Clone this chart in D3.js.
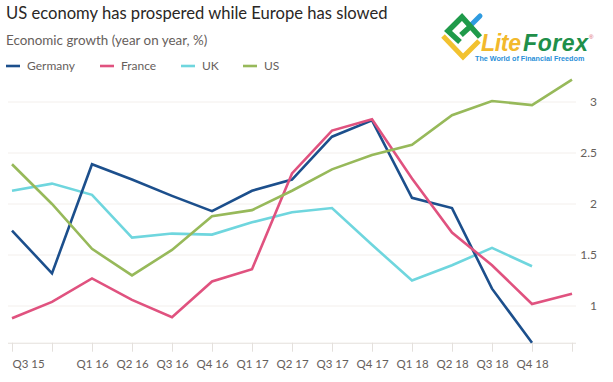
<!DOCTYPE html>
<html>
<head>
<meta charset="utf-8">
<script src="https://cdn.jsdelivr.net/npm/d3@7"></script>
<style>
  html, body { margin: 0; padding: 0; background: #fff; }
  svg { display: block; }
  text { font-family: Lato, "Open Sans", sans-serif; }
</style>
</head>
<body>
<svg width="613" height="382"></svg>
<script>
const quarters = ['Q3 15', 'Q4 15', 'Q1 16', 'Q2 16', 'Q3 16', 'Q4 16', 'Q1 17', 'Q2 17', 'Q3 17', 'Q4 17', 'Q1 18', 'Q2 18', 'Q3 18', 'Q4 18', 'Q1 19'];
// FT skips these two on the axis
const hiddenLabels = ['Q4 15', 'Q1 19'];
const yTicks = [1, 1.5, 2, 2.5, 3];

const germany = [1.74, 1.32, 2.39, 2.24, 2.08, 1.93, 2.13, 2.24, 2.66, 2.82, 2.06, 1.96, 1.17, 0.64];
const france = [0.88, 1.04, 1.27, 1.06, 0.89, 1.24, 1.36, 2.3, 2.72, 2.83, 2.25, 1.72, 1.4, 1.02, 1.12];
const uk = [2.13, 2.2, 2.09, 1.67, 1.71, 1.7, 1.82, 1.92, 1.96, 1.6, 1.25, 1.4, 1.57, 1.39];
const us = [2.39, 2.0, 1.56, 1.3, 1.55, 1.88, 1.94, 2.13, 2.34, 2.48, 2.58, 2.87, 3.01, 2.97, 3.22];

const seriesNames = ['Germany', 'France', 'UK', 'US'];
const seriesValues = [germany, france, uk, us];
const seriesColors = ['#1c4f8c', '#e0527f', '#6fd6de', '#97b95a'];
const drawOrder = [2, 0, 1, 3];

const svg = d3.select('svg');

const x = d3.scalePoint().domain(quarters).range([12, 572]);
const y = d3.scaleLinear().domain([1, 3]).range([306, 102]);
const y0 = y(0.64);

// gridlines
svg.append('g').selectAll('line').data(yTicks)
  .enter().append('line')
    .attr('x1', 8).attr('x2', 576)
    .attr('y1', d => y(d)).attr('y2', d => y(d))
    .attr('stroke', '#f3efec').attr('stroke-width', 1);

svg.append('g').selectAll('text').data(yTicks)
  .enter().append('text')
    .attr('x', 597)
    .attr('y', d => y(d))
    .attr('dy', '0.36em')
    .attr('text-anchor', 'end')
    .attr('font-size', 12)
    .attr('fill', '#66605c')
    .text(d => d);

// x axis
const xAxis = d3.axisBottom(x)
  .tickSize(9)
  .tickPadding(8)
  .tickFormat(d => hiddenLabels.includes(d) ? '' : d);

const axisG = svg.append('g')
  .attr('transform', `translate(0, ${y0})`)
  .call(xAxis);
axisG.select('.domain').attr('d', 'M8,0.5H576').attr('stroke', '#e4e0dc');
axisG.selectAll('.tick line').attr('stroke', '#e4e0dc');
axisG.selectAll('.tick text')
  .attr('font-family', 'Lato, sans-serif')
  .attr('font-size', 11.5)
  .attr('fill', '#66605c')
  .attr('text-anchor', d => d === quarters[0] ? 'start' : 'middle');

// lines
const line = d3.line()
  .x((d, i) => x(quarters[i]))
  .y(d => y(d));

svg.append('g').selectAll('path').data(drawOrder)
  .enter().append('path')
    .attr('d', d => line(seriesValues[d]))
    .attr('fill', 'none')
    .attr('stroke', d => seriesColors[d])
    .attr('stroke-width', 2.6)
    .attr('stroke-linejoin', 'miter');

// titles
svg.append('text')
  .attr('x', 6).attr('y', 19)
  .attr('font-size', 16.6)
  .attr('fill', '#2a2725')
  .text('US economy has prospered while Europe has slowed');
svg.append('text')
  .attr('x', 6).attr('y', 45)
  .attr('font-size', 13.4)
  .attr('fill', '#66605c')
  .text('Economic growth (year on year, %)');

// legend
const legendX = [6, 100, 181, 243];
const legend = svg.append('g').selectAll('g').data(seriesNames)
  .enter().append('g')
    .attr('transform', (d, i) => `translate(${legendX[i]}, 66)`);
legend.append('line')
  .attr('x1', 0).attr('x2', 14)
  .attr('stroke', (d, i) => seriesColors[i])
  .attr('stroke-width', 2.6);
legend.append('text')
  .attr('x', 21)
  .attr('dy', '0.36em')
  .attr('font-size', 12)
  .attr('fill', '#66605c')
  .text(d => d);

// logo
const logo = svg.append('g').attr('transform', 'translate(400, 0)');
logo.append('path')
  .attr('d', 'M43,36 L63,57 L79,41')
  .attr('fill', 'none').attr('stroke', '#f2c230').attr('stroke-width', 5);
logo.append('path')
  .attr('d', 'M72,24 L80,16')
  .attr('fill', 'none').attr('stroke', '#2f9be0').attr('stroke-width', 5).attr('stroke-linecap', 'round');
logo.append('path')
  .attr('d', 'M80,37 L62,17 L48,31 L60,42 M61,35 L72,25')
  .attr('fill', 'none').attr('stroke', '#1f9a4a').attr('stroke-width', 5.5);
logo.append('text')
  .attr('x', 81).attr('y', 51)
  .attr('font-size', 23).attr('font-weight', 700).attr('font-style', 'italic')
  .style('font-family', '"Liberation Sans"')
  .attr('fill', '#f2b92c')
  .attr('textLength', 40)
  .text('Lite');
logo.append('text')
  .attr('x', 123).attr('y', 51)
  .attr('font-size', 23).attr('font-weight', 700).attr('font-style', 'italic')
  .style('font-family', '"Liberation Sans"')
  .attr('fill', '#1f8f4a')
  .attr('textLength', 65)
  .text('Forex');
logo.append('text')
  .attr('x', 75).attr('y', 61)
  .attr('font-size', 7.2).attr('font-weight', 700)
  .style('font-family', '"Liberation Sans"')
  .attr('fill', '#2a8fd8')
  .text('The World of Financial Freedom');
logo.append('text')
  .attr('x', 189).attr('y', 39)
  .attr('font-size', 6)
  .style('font-family', '"Liberation Sans"')
  .attr('fill', '#d8566a')
  .text('®');
</script>
</body>
</html>
